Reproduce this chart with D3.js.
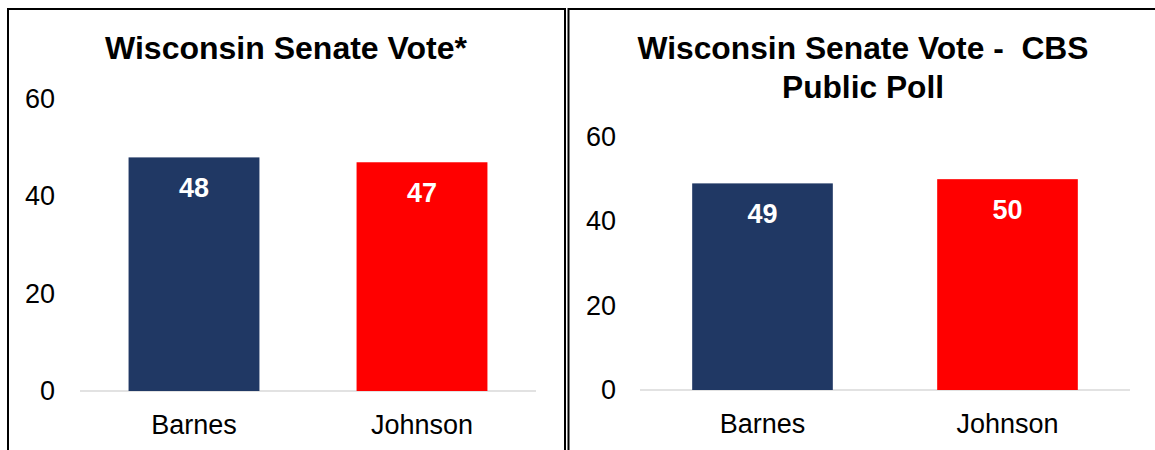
<!DOCTYPE html>
<html>
<head>
<meta charset="utf-8">
<script src="https://cdn.jsdelivr.net/npm/d3@7"></script>
<style>
body { margin: 0; background: #fff; }
svg { display: block; font-family: Arial, "Liberation Sans", sans-serif; }
</style>
</head>
<body>
<div class="charts"></div>
<script>
var width = 1155;
var height = 450;

// data
var candidates = ["Barnes", "Johnson"];
var barColors = ["#203864", "#ff0000"];
var internalVotes = [48, 47];
var cbsVotes = [49, 50];
var yTicks = [0, 20, 40, 60];
var leftTitle = ["Wisconsin Senate Vote*"];
var rightTitle = ["Wisconsin Senate Vote -\u00a0 CBS", "Public Poll"];

var svg = d3.select(".charts").append("svg")
	.attr("width", width)
	.attr("height", height);

// panel borders (left panel boxed, right panel open at right/bottom)
svg.append("path")
	.attr("d", "M8,450 L8,9 L565,9 L565,450")
	.attr("fill", "none").attr("stroke", "#000").attr("stroke-width", 2);
svg.append("path")
	.attr("d", "M568.5,450 L568.5,9 L1155,9")
	.attr("fill", "none").attr("stroke", "#000").attr("stroke-width", 2);

function drawChart(opts) {
	var g = svg.append("g");

	var xScale = d3.scaleBand()
		.domain(candidates)
		.range([opts.x0, opts.x1])
		.paddingInner(0.426)
		.paddingOuter(0.213);

	var yScale = d3.scaleLinear()
		.domain([0, 60])
		.range([opts.yBase, opts.yTop]);

	// title
	var title = g.append("text")
		.attr("text-anchor", "middle")
		.attr("font-weight", "bold")
		.attr("font-size", 31)
		.attr("fill", "#000");
	opts.title.forEach(function (t, i) {
		title.append("tspan")
			.attr("x", opts.titleX)
			.attr("y", 59 + i * 39)
			.attr("textLength", opts.titleW[i])
			.attr("lengthAdjust", "spacingAndGlyphs")
			.text(t);
	});

	// y axis labels only
	var yAxis = d3.axisLeft(yScale).tickValues(yTicks).tickSize(0).tickPadding(0);
	var ya = g.append("g")
		.attr("transform", "translate(" + opts.tickX + ",0)")
		.call(yAxis);
	ya.select(".domain").remove();
	ya.selectAll("text")
		.attr("font-size", 27)
		.attr("font-family", "Arial, 'Liberation Sans', sans-serif")
		.attr("fill", "#000");

	// baseline
	g.append("line")
		.attr("x1", opts.x0).attr("x2", opts.x1)
		.attr("y1", yScale(0)).attr("y2", yScale(0))
		.attr("stroke", "#d9d9d9").attr("stroke-width", 1.5);

	// bars
	g.selectAll(".bar")
		.data(opts.values)
		.enter().append("rect")
		.attr("x", function (d, i) { return xScale(candidates[i]); })
		.attr("y", function (d) { return yScale(d); })
		.attr("width", xScale.bandwidth())
		.attr("height", function (d) { return yScale(0) - yScale(d); })
		.attr("fill", function (d, i) { return barColors[i]; });

	// value labels
	g.selectAll(".val")
		.data(opts.values)
		.enter().append("text")
		.attr("x", function (d, i) { return xScale(candidates[i]) + xScale.bandwidth() / 2; })
		.attr("y", function (d) { return yScale(d) + 39.5; })
		.attr("text-anchor", "middle")
		.attr("font-weight", "bold")
		.attr("font-size", 27)
		.attr("fill", "#fff")
		.text(function (d) { return d; });

	// category labels
	var xAxis = d3.axisBottom(xScale).tickSize(0).tickPadding(0);
	var xa = g.append("g")
		.attr("transform", "translate(0," + yScale(0) + ")")
		.call(xAxis);
	xa.select(".domain").remove();
	xa.selectAll("text")
		.attr("dy", null)
		.attr("y", 43)
		.attr("font-size", 27)
		.attr("font-family", "Arial, 'Liberation Sans', sans-serif")
		.attr("fill", "#000");
}

drawChart({
	x0: 80, x1: 536, yBase: 391, yTop: 99,
	tickX: 55, values: internalVotes,
	title: leftTitle, titleX: 286, titleW: [362]
});

drawChart({
	x0: 640, x1: 1130, yBase: 390, yTop: 137,
	tickX: 616, values: cbsVotes,
	title: rightTitle, titleX: 863, titleW: [451, 162]
});
</script>
</body>
</html>
